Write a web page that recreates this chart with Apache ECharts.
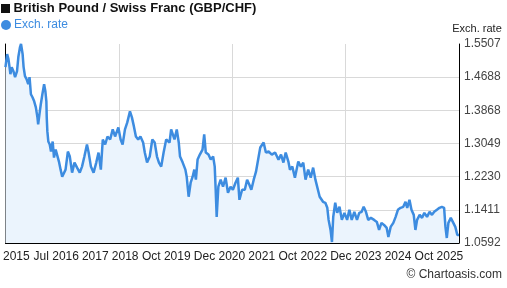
<!DOCTYPE html>
<html>
<head>
<meta charset="utf-8">
<title>British Pound / Swiss Franc (GBP/CHF)</title>
<script src="https://cdn.jsdelivr.net/npm/echarts@6/dist/echarts.min.js"></script>
<style>
  html, body { margin: 0; padding: 0; background: #fff; }
  #chart { width: 507px; height: 288px; }
</style>
</head>
<body>
<div id="chart"></div>
<script>
// decimal years
const dates = [
  2015.500, 2015.537, 2015.566, 2015.587, 2015.609, 2015.638, 2015.675, 2015.712, 2015.755, 2015.784,
  2015.821, 2015.843, 2015.878, 2015.900, 2015.930, 2015.965, 2016.002, 2016.031, 2016.061, 2016.096,
  2016.133, 2016.170, 2016.205, 2016.221, 2016.249, 2016.279, 2016.314, 2016.352, 2016.380, 2016.402,
  2016.410, 2016.424, 2016.445, 2016.476, 2016.504, 2016.541, 2016.570, 2016.607, 2016.642, 2016.679,
  2016.716, 2016.751, 2016.825, 2016.876, 2016.919, 2016.969, 2017.022, 2017.079, 2017.138, 2017.188,
  2017.240, 2017.297, 2017.334, 2017.384, 2017.443, 2017.502, 2017.552, 2017.603, 2017.646, 2017.699,
  2017.749, 2017.808, 2017.865, 2017.917, 2017.989, 2018.039, 2018.083, 2018.135, 2018.186, 2018.245,
  2018.288, 2018.332, 2018.376, 2018.426, 2018.476, 2018.535, 2018.572, 2018.622, 2018.681, 2018.738,
  2018.790, 2018.841, 2018.884, 2018.934, 2018.987, 2019.044, 2019.118, 2019.153, 2019.227, 2019.277,
  2019.321, 2019.349, 2019.408, 2019.467, 2019.496, 2019.539, 2019.583, 2019.627, 2019.664, 2019.699,
  2019.736, 2019.786, 2019.845, 2019.882, 2019.917, 2019.976, 2020.026, 2020.079, 2020.114, 2020.135,
  2020.157, 2020.194, 2020.245, 2020.297, 2020.354, 2020.406, 2020.463, 2020.515, 2020.572, 2020.624,
  2020.659, 2020.718, 2020.777, 2020.828, 2020.878, 2020.921, 2020.974, 2021.024, 2021.083, 2021.118,
  2021.192, 2021.242, 2021.301, 2021.373, 2021.445, 2021.520, 2021.576, 2021.629, 2021.679, 2021.738,
  2021.773, 2021.825, 2021.882, 2021.956, 2022.013, 2022.066, 2022.116, 2022.175, 2022.231, 2022.284,
  2022.334, 2022.378, 2022.428, 2022.502, 2022.553, 2022.596, 2022.625, 2022.668, 2022.699, 2022.727,
  2022.771, 2022.814, 2022.865, 2022.917, 2022.974, 2023.033, 2023.083, 2023.135, 2023.192, 2023.251,
  2023.301, 2023.354, 2023.398, 2023.448, 2023.498, 2023.557, 2023.629, 2023.688, 2023.738, 2023.790,
  2023.847, 2023.906, 2023.943, 2023.993, 2024.052, 2024.103, 2024.153, 2024.212, 2024.271, 2024.321,
  2024.358, 2024.408, 2024.452, 2024.502, 2024.539, 2024.576, 2024.633, 2024.686, 2024.736, 2024.795,
  2024.851, 2024.904, 2024.954, 2025.013, 2025.070, 2025.122, 2025.172, 2025.201, 2025.231, 2025.266,
  2025.319, 2025.375, 2025.419, 2025.463, 2025.500
];

const rates = [
  1.4936, 1.5259, 1.5135, 1.4961, 1.4762, 1.4936, 1.4837, 1.4688, 1.4837, 1.5184,
  1.5432, 1.5507, 1.5259, 1.4936, 1.4713, 1.4638, 1.4514, 1.4688, 1.4266, 1.4191,
  1.4092, 1.3943, 1.3695, 1.3521, 1.3769, 1.4018, 1.4266, 1.4514, 1.4340, 1.4092,
  1.3695, 1.3348, 1.3099, 1.3025, 1.2851, 1.3099, 1.2702, 1.2900, 1.2851, 1.2603,
  1.2404, 1.2230, 1.2404, 1.2851, 1.2727, 1.2330, 1.2578, 1.2454, 1.2330, 1.2479,
  1.2727, 1.3025, 1.2826, 1.2479, 1.2330, 1.2578, 1.2826, 1.2404, 1.3149, 1.3025,
  1.3223, 1.3149, 1.3397, 1.3223, 1.3447, 1.3149, 1.3025, 1.3397, 1.3571, 1.3844,
  1.3695, 1.3472, 1.3223, 1.3149, 1.3223, 1.3074, 1.2826, 1.2578, 1.2727, 1.3149,
  1.3074, 1.2727, 1.2578, 1.2479, 1.2826, 1.3149, 1.3074, 1.3397, 1.3149, 1.3397,
  1.3074, 1.2727, 1.2578, 1.2404, 1.2230, 1.1735, 1.2081, 1.2230, 1.2404, 1.2156,
  1.2652, 1.2776, 1.2900, 1.3273, 1.2826, 1.2776, 1.2652, 1.2727, 1.2479, 1.1908,
  1.1238, 1.1982, 1.2156, 1.1982, 1.2205, 1.1834, 1.1982, 1.1908, 1.2081, 1.2205,
  1.1659, 1.1908, 1.1908, 1.2156, 1.2032, 1.1908, 1.2156, 1.2354, 1.2727, 1.2950,
  1.3074, 1.2826, 1.2851, 1.2776, 1.2826, 1.2652, 1.2776, 1.2578, 1.2826, 1.2603,
  1.2404, 1.2479, 1.2205, 1.2603, 1.2479, 1.2578, 1.2156, 1.2404, 1.2205, 1.2454,
  1.2156, 1.2156, 1.1735, 1.1610, 1.1585, 1.1461, 1.1163, 1.0915, 1.0617, 1.1238,
  1.1585, 1.1337, 1.1486, 1.1163, 1.1337, 1.1163, 1.1411, 1.1163, 1.1362, 1.1163,
  1.1337, 1.1362, 1.1486, 1.1362, 1.1163, 1.1213, 1.1163, 1.1113, 1.0915, 1.1089,
  1.1039, 1.0965, 1.0741, 1.0989, 1.1089, 1.1238, 1.1411, 1.1461, 1.1486, 1.1610,
  1.1461, 1.1659, 1.1411, 1.1287, 1.0915, 1.1163, 1.1287, 1.1213, 1.1337, 1.1238,
  1.1362, 1.1287, 1.1362, 1.1411, 1.1461, 1.1486, 1.1461, 1.0989, 1.0716, 1.1089,
  1.1213, 1.1089, 1.0989, 1.0791, 1.0791
];

const yTicks = [1.0592, 1.1411, 1.2230, 1.3049, 1.3868, 1.4688, 1.5507];
const xLabels = ['2015', 'Jul 2016', '2017', '2018', 'Oct 2019', 'Dec 2020', '2021', 'Oct 2022', 'Dec 2023', '2024', 'Oct 2025'];
const xLabelPos = [2015.740, 2016.620, 2017.480, 2018.140, 2019.045, 2020.220, 2021.150, 2022.055, 2023.225, 2024.155, 2025.057];
const xGrid = [2018, 2020.5, 2023];

const lineColor = '#3d8ce0';
const gridColor = '#d9d9d9';
const font = 'Arial, "Liberation Sans", sans-serif';

const chart = echarts.init(document.getElementById('chart'));

const option = {
  animation: false,
  textStyle: { fontFamily: font },
  title: [
    {
      text: '{sq|} British Pound / Swiss Franc (GBP/CHF)',
      left: 1,
      top: 2,
      padding: 0,
      textStyle: {
        fontSize: 13,
        fontWeight: 'bold',
        color: '#111',
        fontFamily: font,
        rich: { sq: { width: 9, height: 9, backgroundColor: '#111' } },
      },
    },
    {
      text: '© Chartoasis.com',
      right: 5,
      top: 269,
      padding: 0,
      textStyle: { fontSize: 12, fontWeight: 'normal', color: '#333', fontFamily: font },
    },
  ],
  legend: {
    data: ['Exch. rate'],
    left: 1,
    top: 19,
    padding: 0,
    icon: 'circle',
    itemWidth: 10,
    itemHeight: 10,
    textStyle: { color: lineColor, fontSize: 12, fontFamily: font, padding: [0, 0, 0, -2] },
  },
  grid: { left: 1, right: 48, top: 44, bottom: 45 },
  xAxis: {
    type: 'value',
    min: 2015.5,
    max: 2025.5,
    axisLine: { show: true, onZero: false, lineStyle: { color: '#000', width: 1 } },
    axisTick: { show: false, customValues: xGrid },
    splitLine: { show: true, lineStyle: { color: gridColor, width: 1 } },
    axisLabel: {
      customValues: xLabelPos,
      color: '#222',
      fontSize: 12,
      margin: 8,
      formatter: (v) => xLabels[xLabelPos.indexOf(v)] ?? '',
    },
  },
  yAxis: [
    {
      type: 'value',
      position: 'right',
      min: yTicks[0],
      max: yTicks[yTicks.length - 1],
      name: 'Exch. rate',
      nameLocation: 'end',
      nameGap: 10,
      nameTextStyle: { color: '#222', fontSize: 11, align: 'center', padding: [0, 0, 0, 36] },
      axisLine: { show: true, lineStyle: { color: '#000', width: 1 } },
      // inner ticks only: top edge has no gridline, bottom is the axis line
      axisTick: { show: false, customValues: yTicks.slice(1, -1) },
      splitLine: { show: true, lineStyle: { color: gridColor, width: 1 } },
      axisLabel: {
        customValues: yTicks,
        color: '#444',
        fontSize: 12,
        margin: 5,
        formatter: (v) => v.toFixed(4),
      },
    },
    {
      type: 'value',
      position: 'left',
      min: yTicks[0],
      max: yTicks[yTicks.length - 1],
      axisLine: { show: true, lineStyle: { color: '#000', width: 1 } },
      axisTick: { show: false },
      axisLabel: { show: false },
      splitLine: { show: false },
    },
  ],
  series: [
    {
      name: 'Exch. rate',
      type: 'line',
      yAxisIndex: 0,
      data: dates.map((d, i) => [d, rates[i]]),
      symbol: 'none',
      showSymbol: false,
      lineStyle: { color: lineColor, width: 2.5 },
      itemStyle: { color: lineColor },
      areaStyle: { color: '#ebf4fd', opacity: 1, origin: 'start' },
    },
  ],
};

chart.setOption(option);
</script>
</body>
</html>
